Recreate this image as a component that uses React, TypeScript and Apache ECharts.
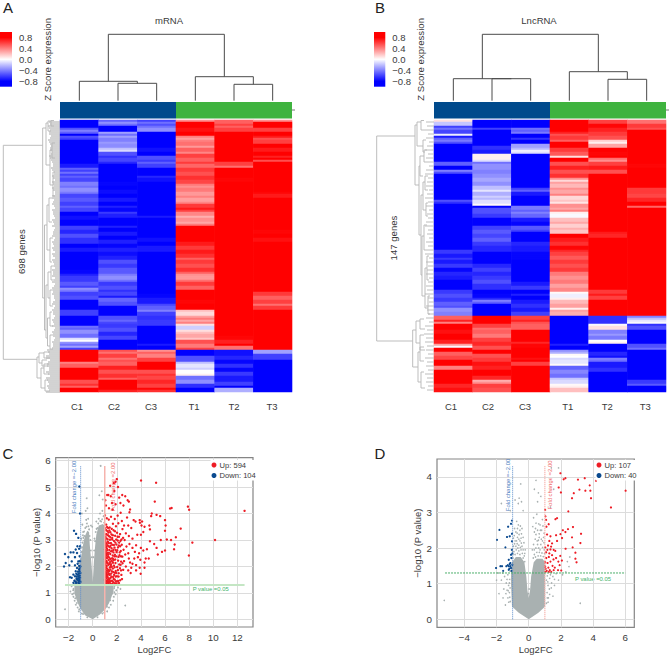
import React, { useEffect, useRef } from "react";
import * as echarts from "echarts";

const FONT = '"Liberation Sans", Arial, sans-serif';
const INK = "#3a3a3a";

const columns = ["C1", "C2", "C3", "T1", "T2", "T3"];
const colorTicks = [-0.8, -0.4, 0, 0.4, 0.8];
const heatColors = ["#0000ff", "#0000ff", "#4040ff", "#8080ff", "#bfbfff", "#ffffff", "#ffbfbf", "#ff8080", "#ff4040", "#ff0000", "#ff0000"];
const annotationGroups = [[0, 3, "#004a8c"], [3, 6, "#3fb33f"]];

// bands per column: [last row (exclusive, of 136), z score]
const mrnaBands = [
  [[2,-.9],[4,-.85],[5,-.55],[6,-.4],[7,-.5],[8,-.9],[9,-.55],[10,-.6],[21,-.9],[22,-.8],[24,-.72],[25,-.5],[26,-.6],[27,-.45],[28,-.6],[29,-.5],[31,-.58],[33,-.4],[34,-.45],[36,-.35],[37,-.42],[39,-.58],[41,-.52],[43,-.6],[44,-.5],[46,-.58],[48,-.85],[50,-.75],[53,-.82],[55,-.6],[57,-.68],[59,-.55],[62,-.65],[64,-.82],[66,-.72],[68,-.85],[70,-.9],[73,-.82],[75,-.88],[77,-.78],[78,-.7],[81,-.62],[83,-.52],[84,-.6],[85,-.35],[86,-.42],[88,-.6],[90,-.55],[92,-.85],[95,-.82],[98,-.6],[101,-.9],[103,-.8],[104,-.45],[105,-.5],[107,-.35],[109,-.45],[110,-.1],[111,0],[112,-.35],[113,-.45],[114,-.3],[115,-.6],[121,.9],[122,.4],[124,.5],[128,.88],[130,.8],[132,.55],[133,.65],[134,.5],[136,.85]],
  [[1,-.5],[2,-.35],[3,-.45],[6,-.9],[7,-.3],[8,-.45],[9,-.3],[11,-.4],[12,-.32],[14,-.36],[15,-.2],[16,-.12],[18,-.55],[19,-.65],[21,-.58],[22,-.68],[25,-.9],[28,-.85],[31,-.9],[33,-.78],[35,-.85],[37,-.76],[39,-.8],[41,-.72],[43,-.82],[44,-.7],[46,-.78],[47,-.62],[49,-.7],[51,-.88],[53,-.82],[54,-.7],[56,-.82],[58,-.72],[60,-.8],[62,-.7],[64,-.78],[66,-.7],[68,-.76],[70,-.7],[72,-.55],[74,-.62],[77,-.52],[78,-.42],[80,-.35],[81,-.45],[83,-.62],[85,-.55],[86,-.65],[88,-.58],[89,-.72],[91,-.48],[93,-.55],[95,-.85],[98,-.82],[100,-.55],[101,-.48],[102,-.58],[104,-.62],[106,-.55],[108,-.68],[110,-.58],[115,-.9],[116,.55],[117,.45],[119,.6],[120,.45],[121,.55],[123,.5],[125,.7],[127,.55],[129,.65],[130,.5],[135,.9],[136,.7]],
  [[1,-.6],[2,-.45],[3,-.55],[4,-.45],[6,-.35],[14,-.9],[16,-.75],[18,-.9],[20,-.55],[21,-.62],[22,-.5],[24,-.6],[26,-.85],[28,-.8],[29,-.68],[31,-.75],[46,-.9],[48,-.82],[49,-.72],[51,-.82],[54,-.85],[56,-.8],[59,-.88],[61,-.75],[63,-.82],[66,-.72],[70,-.82],[87,-.9],[89,-.78],[92,-.72],[93,-.58],[95,-.5],[96,-.4],[98,-.6],[100,-.65],[103,-.62],[110,-.9],[112,-.82],[113,-.72],[115,-.85],[116,.35],[117,.5],[119,.4],[121,.6],[123,.88],[125,.8],[127,.55],[128,.65],[130,.58],[132,.68],[134,.6],[135,.78],[136,.65]],
  [[1,.35],[4,.85],[6,.75],[8,.82],[9,.4],[10,.3],[11,.4],[13,.45],[14,.32],[16,.5],[17,.38],[19,.6],[21,.5],[22,.62],[24,.48],[26,.62],[28,.55],[30,.65],[32,.58],[33,.42],[34,.35],[36,.42],[38,.32],[39,.4],[41,.3],[42,.38],[44,.62],[45,.72],[46,.6],[48,.38],[49,.25],[51,.35],[52,.28],[53,.42],[56,.88],[58,.8],[61,.85],[63,.72],[65,.62],[67,.72],[69,.65],[70,.5],[72,.62],[74,.55],[76,.65],[77,.5],[78,.35],[80,.32],[81,.45],[83,.62],[85,.5],[90,.88],[92,.78],[95,.85],[96,.2],[98,.12],[99,.3],[100,.42],[101,.28],[102,.4],[103,.1],[105,-.15],[106,.1],[107,.2],[109,.28],[110,.18],[112,.55],[114,.42],[115,.6],[118,-.9],[121,-.55],[122,-.2],[124,-.08],[125,-.15],[127,0],[128,.05],[130,-.45],[132,-.35],[134,-.65],[136,-.8]],
  [[2,.5],[3,.6],[4,.5],[6,.6],[21,.9],[23,.6],[24,.45],[29,.88],[31,.78],[37,.88],[85,.9],[87,.8],[90,.85],[108,.9],[110,.78],[112,.7],[113,.88],[115,.45],[118,-.75],[120,-.68],[122,-.78],[124,-.65],[126,-.78],[128,-.62],[131,-.72],[133,-.6],[134,-.8],[136,-.25]],
  [[1,.35],[4,.82],[6,.6],[8,.85],[9,.72],[10,.55],[12,.6],[14,.85],[16,.72],[18,.82],[19,.7],[20,.82],[21,.55],[31,.88],[34,.82],[36,.88],[37,.78],[39,.72],[55,.9],[57,.78],[59,.86],[61,.75],[78,.9],[83,.85],[86,.8],[88,.62],[90,.5],[92,.6],[93,.45],[95,.62],[115,.9],[117,-.3],[120,-.6],[136,-.9]],
];
const lncBands = [
  [[1,.1],[3,-.18],[4,-.6],[5,-.45],[7,-.58],[8,-.05],[9,-.72],[10,-.5],[11,-.42],[12,-.55],[21,-.9],[23,-.5],[24,-.85],[25,-.82],[26,-.4],[27,-.55],[40,-.9],[41,-.55],[42,-.65],[59,-.9],[61,-.8],[65,-.9],[67,-.62],[69,-.72],[70,-.62],[72,-.72],[74,-.62],[76,-.78],[78,-.68],[80,-.72],[85,-.9],[87,-.62],[89,-.55],[91,-.62],[93,-.5],[94,-.55],[96,-.35],[98,-.4],[100,.5],[101,.7],[102,.4],[105,.9],[107,.75],[110,.85],[112,.7],[113,.3],[114,-.02],[116,.85],[118,.5],[120,.58],[123,.85],[125,.4],[128,.88],[132,.9],[134,.68],[136,.75]],
  [[4,-.9],[5,-.6],[13,-.9],[15,-.65],[17,-.72],[20,.05],[21,-.1],[22,-.45],[25,-.35],[27,-.4],[29,-.35],[31,-.28],[33,-.35],[35,-.2],[36,-.08],[38,-.25],[39,-.15],[40,-.22],[42,-.1],[43,.02],[44,-.9],[47,-.55],[49,-.62],[53,-.9],[55,-.6],[57,-.52],[59,-.58],[61,-.5],[63,-.62],[66,-.68],[72,-.88],[74,-.68],[76,-.6],[78,-.68],[80,-.62],[82,-.55],[85,-.65],[87,-.85],[89,-.78],[90,-.68],[91,-.4],[92,-.5],[98,-.9],[102,.9],[104,.6],[105,.45],[107,.5],[109,.42],[111,.6],[113,.68],[115,.55],[117,.85],[119,.55],[121,.62],[123,.75],[125,.7],[128,.8],[130,.68],[131,.25],[132,.35],[134,.6],[136,.55]],
  [[4,-.85],[5,-.45],[6,-.5],[7,-.42],[9,-.8],[10,-.65],[12,-.85],[14,-.3],[15,-.22],[16,-.05],[17,-.1],[34,-.9],[35,-.6],[36,-.5],[38,-.72],[43,-.9],[45,-.42],[46,-.5],[47,-.4],[49,-.48],[51,-.72],[53,-.78],[55,-.52],[56,-.6],[61,-.9],[63,-.68],[66,-.72],[70,-.78],[81,-.9],[83,-.72],[85,-.62],[87,-.85],[88,-.7],[90,-.88],[92,-.72],[94,-.65],[96,-.72],[98,-.6],[100,.6],[101,.7],[102,.55],[105,.5],[111,.9],[112,.68],[114,.78],[117,.9],[119,.88],[120,.75],[121,.9],[123,.6],[136,.9]],
  [[6,.9],[7,.7],[8,.55],[10,.62],[11,.5],[14,.85],[16,.62],[18,.52],[19,.1],[21,.85],[23,.55],[25,.7],[27,.55],[29,.65],[30,.35],[31,.12],[32,.3],[34,.22],[35,.35],[37,.28],[38,.4],[40,.12],[41,.18],[42,.08],[44,.35],[45,.28],[46,.4],[47,.05],[49,-.02],[51,.2],[52,.28],[54,.15],[55,.25],[57,.18],[59,.85],[61,.72],[63,.65],[65,.78],[66,.68],[68,.6],[70,.52],[72,.62],[74,.55],[76,.62],[78,.42],[80,.35],[82,.42],[84,.3],[86,.38],[87,.02],[89,-.05],[90,.05],[92,.22],[94,.3],[95,.05],[96,.3],[98,.25],[112,-.9],[113,-.7],[115,-.82],[116,-.35],[117,-.25],[118,.02],[119,0],[120,-.12],[122,-.08],[123,.02],[125,-.5],[127,-.38],[129,-.45],[130,-.18],[132,-.12],[133,.02],[134,.05],[136,.2]],
  [[2,.6],[4,.78],[6,.7],[8,.62],[10,.55],[11,.15],[12,.05],[14,.28],[16,.88],[18,.78],[19,.85],[20,.45],[21,.35],[23,.6],[25,.72],[27,.55],[30,.82],[56,.9],[57,.72],[59,.68],[69,.88],[85,.9],[87,.62],[88,.72],[90,.6],[98,.9],[102,-.65],[103,-.02],[105,.1],[107,-.4],[108,-.32],[110,-.42],[111,0],[112,.05],[116,-.85],[118,-.68],[119,-.75],[120,-.4],[121,-.45],[124,-.72],[126,-.65],[136,-.9]],
  [[2,.45],[4,.62],[5,.55],[22,.9],[24,.78],[34,.9],[37,.62],[39,.58],[41,.68],[43,.82],[44,.48],[69,.9],[74,.85],[80,.82],[98,.9],[99,-.4],[100,-.2],[101,-.08],[102,-.02],[103,-.65],[105,-.55],[112,-.9],[114,-.55],[115,-.45],[130,-.9],[132,-.62],[133,-.52],[136,-.85]],
];

// top dendrograms: [x1, h1, x2, h2, top]
const topTreeA = [[1.5,0,2.5,0,17.4],[.5,0,2,17.4,19.4],[4.5,0,5.5,0,16.4],[3.5,0,5,16.4,24],[1.25,19.4,4.25,24,66.4]];
const topTreeB = [[1.5,0,2.5,0,22],[.5,0,2,22,22],[4.5,0,5.5,0,21.4],[3.5,0,5,21.4,29],[1.25,22,4.25,29,66.4]];

// side dendrograms: [join, y1, y2, end1, end2]
const sideTreeA = [[3.3,145.3,359.3,42.7,37],[42.7,128,298,46,44.5],[46,123,165,48,50],[48,121,131,51,51],[51,120.5,126,54,54],[50,150,185,52,53],[52,143,158,55,55],[53,172,196,55,55],[44.5,225,330,47,46],[47,205,250,49,50],[49,198,222,52,52],[50,238,262,53,52],[46,285,338,48,47.5],[48,272,298,51,50],[47.5,318,346,50,50],[51,266,280,54,54],[50,290,306,53,53],[50,312,326,52,53],[50,335,349,53,53],[37,357,378,39,41],[39,353,363,44,42],[41,368,388,44,45],[44,352,358,50,50],[42,360,366,47,48],[44,364,374,49,49],[45,380,391,48,50]];
const sideTreeB = [[376.7,136,341,415,412.7],[415,125,185,417,419],[417,122,146,421,423],[421,120.5,130,424,425],[423,140,152,426,425],[419,166,235,420,421],[420,156,176,424,423],[424,150,162,427,427],[421,195,275,423,422],[423,182,210,425,426],[425,176,190,428,428],[426,203,216,428,428],[422,236,296,424,425],[424,225,250,427,427],[425,268,308,427,428],[427,256,280,429,429],[428,296,314,430,430],[412.7,330,367,416,418],[416,321,343,420,420],[420,319,329,424,425],[420,335,350,424,425],[418,352,382,420,421],[420,347,361,424,424],[421,372,388,424,425]];
const leafStartA = [49,48,50,49,50,49,51,50,51,50,52,53,52,54,53,52,54,53,55,52,53,54,52,53,55,53,52,54,53,55,52,54,53,52,55,53,54,52,53,55,52,54,53,52,54,53,55,52,53,54,53,52,54,53,55,52,53,47,49,46,48,47,49,48,46,48,47,49];
const leafStartA2 = [50,49,49,51,48,50,50,52,49,51,53,51,54,52,55,53,52,55,52,54,52,55,53,54,52,54,55,53,52,54,53,52,55,53,52,54,55,53,52,54,55,52,53,54,55,52,54,53,55,52,54,55,52,53,54,53,52,48,46,50,47,49,46,50,47,49,48,46];
const leafStartB = [426,427,425,428,426,429,427,425,428,426,427,429,426,425,428,427,426,429,427,425,428,426,429,427,428,426,425,428,427,429,426,428,427,425,429,426,428,427,426,429,428,426,427,425,428,429,426,427,428,426,429,425,427,424,426,425,427,426,428,425,427,426,428,425,427,426,428,427];

const xTicksC = [-2, 0, 2, 4, 6, 8, 10, 12];
const yTicksC = [0, 1, 2, 3, 4, 5, 6];
const xTicksD = [-4, -2, 0, 2, 4, 6];
const yTicksD = [0, 1, 2, 3, 4];

const cloudC = [[0,0],[-.64,.15],[-1.05,.43],[-1.3,.68],[-1.52,1],[-1.52,1.31],[-1.3,1.6],[-1.08,2],[-.95,2.38],[-.8,2.82],[-.65,3.14],[-.45,3.35],[-.3,3.3],[-.24,2.8],[-.12,2.19],[-.02,1.6],[0,1.4],[.03,1.6],[.1,2.19],[.2,2.76],[.3,3.2],[.5,3.55],[.85,3.6],[1.02,3.45],[1.02,1.31],[1.71,1.31],[1.74,1.12],[1.58,.87],[1.36,.62],[1.08,.4],[.6,.18]];
const cloudD = [[0,0],[-.62,.18],[-1.04,.36],[-1.1,.97],[-1.1,1.3],[-1.04,1.6],[-.8,1.75],[-.5,1.75],[-.27,1.6],[-.15,1.2],[-.08,.8],[0,.6],[.08,.8],[.15,1.2],[.31,1.6],[.5,1.7],[.85,1.7],[1.02,1.6],[1.02,.36],[.6,.18]];

const greyC = [[-.5,4.58],[.66,5.8],[-.44,4.2],[.75,4.84],[.55,4.69],[.83,4.53],[-.9,4],[-.58,4.1],[-.38,3.8],[.6,4],[-.54,3.76],[.8,4.1],[-.04,3.5],[-.86,3.58],[-.3,3.4],[-.7,3.15],[.25,3.3],[.4,3.45],[.7,3.7],[.5,3.8],[.9,3.9],[.95,3.65],[-.8,3.3],[-.85,2.9],[-1,2.7],[-.95,3.05],[-1.1,2.4],[-.62,3.45],[-.15,3.55],[.15,3.05],[.3,3.7],[-1.6,1.15],[-1.75,1.25],[-1.7,.95],[-1.6,.85],[-1.5,.7],[-1.4,.55],[-1.25,.45],[-2.3,.38],[-1.85,1.05],[1.8,1.25],[1.95,1.1],[1.9,.95],[1.75,.85],[2.1,1.2],[2.3,1.15],[1.7,.7],[1.5,.55],[1.35,.45],[2.7,.52],[1.65,1.05],[-1.6,1.3],[-1.15,.3],[1.2,.3],[.95,.25],[-.9,.22],
  [-.72,3.32],[-.78,3.08],[-.88,2.72],[-.92,2.55],[-1,2.25],[-1.12,2.12],[-1.18,1.95],[-1.25,1.82],[-1.38,1.62],[-1.45,1.5],[-.52,3.5],[-.36,3.52],[-.48,3.62],[-.7,2.98],[-.82,3.18],[.32,3.42],[.46,3.62],[.62,3.72],[.78,3.78],[.92,3.55],[.2,2.95],[.12,2.6],[.06,2.35],[-.16,2.6],[-.2,3],[-.08,2.35],[-.26,3.15],[-1.62,1.1],[-1.58,.98],[-1.45,.8],[-1.32,.62],[-1.12,.38],[-.8,.2],[-.45,.08],[.4,.08],[.8,.22],[1.18,.48],[1.45,.72],[1.62,.98],[1.8,1.02],[1.78,1.18],[1.85,1.3]];
const upC = [[4.01,5.25],[5.26,5.16],[12.6,4.1],[7.9,4.26],[8,4.14],[6.55,4.21],[6.42,4.19],[5.15,4.45],[8.27,2.9],[10.15,3],[7.98,2.41],[7.3,3.43],[6.9,3.1],[6.75,2.65],[6.8,2.83],[6.5,3],[6.15,3.02],[6,3.75],[6.05,3.55],[6,3.35],[6,2.6],[5.6,3.9],[5.65,3],[5.3,3.95],[5.75,2.55],[4.9,4],[4.85,3.9],[4.7,3.55],[4.75,3.4],[4.3,3.5],[4.2,3.3],[3.9,3.75],[4.1,3.7],[4.05,3.55],[3.92,3.65],[4,3.2],[3.4,3.75],[3.55,3.7],[3.7,3.2],[4,2.7],[4.2,2.6],[4.5,2.65],[4.75,2.95],[4.65,2.3],[5.1,2.85],[5.3,2.7],[5.4,2.45],[4.4,2.3],[4.3,2.15],[4.3,1.95],[3.95,2.25],[3.85,2.5],[3.75,2.35],[3.6,2.8],[3.5,2.55],[3.45,2.3],[3.3,2.7],[3.2,3.45],[3.3,3.05],[3,3.15],[3.05,2.85],[2.95,2.5],[3,2.3],[3.1,2.15],[3.3,2.1],[3.6,2.05],[3.9,1.95],[3.98,1.72],[3.6,1.85],[3.15,1.75],[3.2,1.95],[2.95,1.85],[2.75,2],[2.6,2.2],[2.7,2.45],[2.8,2.75],[2.65,3],[2.75,3.25],[2.6,3.55],[2.95,3.55],[3,4.45],[2.9,4.5],[2.45,4.7],[2.7,4.65],[2.2,4.6],[1.9,5.2],[2,5.3],[1.75,5.15],[1.45,5.05],[1.2,4.7],[1.3,4.7],[1.05,4.5],[1.5,4.65],[2.1,5],[1.8,4.85],[1.6,4.4],[1.1,4.3],[1.35,4.2],[1.65,4.15],[1.9,4.35],[2.3,4.4],[2.55,4.3],[3.05,4.05],[2.85,3.85],[3.1,4.15],
  [1.02,3.93],[1.17,3.82],[1.33,3.77],[1.52,3.88],[1.83,3.79],[2.07,3.92],[2.32,4.03],[2.42,3.72],[2.13,3.63],[1.93,3.52],[1.68,3.61],[1.41,3.47],[1.12,3.58],[1.03,3.44],[1.22,3.33],[1.47,3.29],[1.73,3.37],[2.02,3.27],[2.27,3.22],[2.47,3.41],[2.52,3.08],[2.31,2.97],[2.06,3.12],[1.86,3.16],[1.62,3.07],[1.36,3.14],[1.11,3.21],[1.03,3.03],[1.26,2.93],[1.51,2.88],[1.77,2.96],[1.96,2.83],[2.17,2.79],[2.41,2.82],[2.56,2.63],[2.33,2.58],[2.04,2.61],[1.81,2.71],[1.57,2.69],[1.31,2.76],[1.08,2.81],[1.02,2.64],[1.21,2.52],[1.46,2.47],[1.72,2.53],[1.94,2.38],[2.22,2.42],[2.46,2.37],[2.36,2.18],[2.11,2.22],[1.87,2.26],[1.61,2.31],[1.37,2.34],[1.13,2.41],[1.02,2.27],[1.24,2.13],[1.52,2.08],[1.76,2.03],[2.03,1.98],[2.26,1.93],[2.53,1.87],[2.38,1.68],[2.16,1.74],[1.91,1.83],[1.67,1.92],[1.42,1.96],[1.16,2.02],[1.03,1.88],[1.27,1.79],[1.54,1.73],[1.78,1.68],[2.01,1.63],[2.28,1.48],[2.02,1.44],[1.74,1.52],[1.49,1.57],[1.23,1.61],[1.06,1.71],[1.02,1.49],[1.17,1.43],[1.34,1.39],[1.63,1.34],[1.86,1.36],[1.09,1.34],[1.02,1.32],[1.29,1.33],[1.51,1.32],
  [1.06,3.12],[1.16,2.87],[1.04,2.47],[1.09,2.58],[1.18,2.68],[1.28,2.44],[1.14,2.21],[1.07,2.09],[1.33,2.24],[1.19,1.92],[1.08,1.8],[1.31,1.87],[1.13,1.55],[1.26,1.49],[1.42,1.68],[1.39,1.51],[1.44,2.17],[1.56,2.22],[1.38,2.62],[1.48,2.78],[1.24,3.03],[1.43,3.01],[1.56,3.21],[1.28,3.45],[1.6,2.58],[1.66,2.41],[1.68,2.14],[1.58,1.99],[1.7,1.79],[1.82,1.97],[1.84,2.44],[1.89,2.13],[1.98,2.54],[2.14,2.36],[2.2,2.07],[2.09,1.86],[1.95,1.75],[1.11,3.38],[1.05,2.95],[1.04,2.72],[1.2,2.31],[1.03,2.18],[1.12,1.67],[1.04,1.6],[1.36,1.72],[1.22,1.41],[1.47,1.44],[1.59,1.46],[1.74,1.39],[1.98,1.36],[2.18,1.37],[2.43,1.52],
  [1.03,2.96],[1.07,2.88],[1.13,2.74],[1.05,2.54],[1.1,2.33],[1.16,2.47],[1.22,2.62],[1.26,2.37],[1.18,2.16],[1.04,2.03],[1.1,1.95],[1.2,1.85],[1.05,1.79],[1.14,1.74],[1.23,1.69],[1.07,1.63],[1.17,1.63],[1.29,1.7],[1.1,1.47],[1.04,1.41],[1.16,1.36],[1.27,1.43],[1.33,1.55],[1.4,1.44],[1.46,1.36],[1.38,1.83],[1.47,1.88],[1.3,2.06],[1.39,2.1],[1.5,2.02],[1.46,2.28],[1.34,2.52],[1.52,2.57],[1.42,2.73],[1.22,2.8],[1.34,2.88],[1.14,3.06],[1.47,3.1],[1.32,3.28],[1.19,3.49],[1.62,2.82],[1.68,3.18],[1.76,2.81],[1.72,2.63],[1.8,2.38],[1.75,2.24],[1.63,2.18],[1.59,1.82],[1.84,1.76],[1.69,1.6],[1.56,1.62],[1.83,1.5],[1.9,1.62],[1.66,1.43],[1.92,1.44],[1.3,1.52],[1.03,1.74],[1.09,2.15],[1.05,2.38],[1.15,3.22],[1.27,3.18],[1.38,3.36],[1.58,3.42],[1.85,3.33],[1.95,3.02],[1.68,2.29],[1.9,2.62],[2.1,2.72],[2.24,2.53],[2.35,2.38],[2.28,2.76],[2.2,2.9],[2.39,3.02],[2.18,3.12],[2.08,2.98],[1.88,2.9],[1.62,3.02],[2.15,1.62],[2.35,1.85],[2.32,2.06],[2.48,2.12],[2.12,1.45]];
const downC = [[-1.11,5.02],[-1.05,4],[-1.55,3.35],[-1.38,3.23],[-1.19,3.08],[-1.27,2.76],[-1.05,2.76],[-1.13,2.67],[-1.41,2.64],[-1.83,2.53],[-2.3,2.47],[-1.6,2.53],[-1.3,2.51],[-2.02,2.35],[-1.47,2.35],[-1.08,2.38],[-1.74,2.19],[-2.24,2.13],[-1.19,2.19],[-2.38,2],[-1.94,2.04],[-1.47,2.04],[-1.02,2],[-1.3,1.94],[-1.13,1.88],[-1.41,1.82],[-1.02,1.75],[-1.6,1.69],[-1.25,1.69],[-1.47,1.63],[-1.88,1.59],[-1.19,1.63],[-1.74,1.57],[-1.33,1.54],[-1.05,1.57],[-1.52,1.46],[-1.19,1.46],[-1.02,1.41],[-1.36,1.38],[-1.6,1.38],[-1.13,1.34],[-1.02,1.31],[-1.3,1.31],[-1.22,1.8],[-1.08,1.92],[-1.36,1.72],[-1.05,2.2],[-1.25,2.1],[-1.1,1.5],[-1.45,1.32],[-1.15,1.72],[-1.06,1.65],[-1.28,1.5],[-1.08,1.82],[-1.18,1.38],[-1.12,2.02],[-1.2,1.55],[-1.05,1.45],[-1.34,1.62],[-1.42,1.42]];
const upD = [[1.97,4.1],[2.28,3.96],[2.17,3.93],[3.06,3.92],[3.48,3.96],[4.18,3.89],[3.79,3.76],[3.15,3.64],[3.52,3.61],[3.83,3.61],[6.02,3.61],[2.8,3.54],[2.69,3.4],[3.87,3.4],[1.86,3.7],[2,3.56],[5.11,3.14],[2.46,3.03],[1.02,3.07],[1.04,2.89],[1.08,2.79],[1.24,2.67],[1.1,2.6],[1.76,2.84],[1.66,2.81],[2.12,2.5],[2.75,2.59],[2.44,2.53],[2.28,2.45],[3.25,2.4],[2.69,2.3],[1.97,2.39],[2.07,2.28],[1.7,2.36],[1.35,2.33],[1.14,2.38],[1.28,2.2],[1.45,2.13],[1.2,2.07],[1.03,2.02],[1.39,2.04],[1.55,1.95],[1.76,2.2],[3.21,2.14],[2.73,2.02],[2.29,1.98],[1.65,1.92],[1.16,1.95],[1.08,1.88],[1.28,1.85],[1.45,1.8],[1.35,1.96],[2.9,1.87],[2.9,1.7],[2.97,1.6],[1.96,1.78],[2.06,1.65],[1.84,1.62],[1.7,1.72],[1.54,1.68],[1.25,1.75],[1.09,1.72],[1.02,1.6],[1.17,1.58],[1.35,1.62],[1.48,1.5],[1.62,1.45],[1.22,1.45],[1.05,1.42],[1.31,1.38],[1.12,1.36],[1.02,1.48],[1.92,1.52],[1.4,1.33],[1.25,1.33],[1.04,1.33],[1.82,1.38],[1.55,1.38],[2.02,1.37]];
const downD = [[-1.04,2.77],[-1.1,2.68],[-1.28,2.6],[-1.82,2.51],[-1.97,2.23],[-1.35,2.31],[-1.18,2.33],[-1.04,2.4],[-1.04,2.19],[-1.45,2.02],[-1.04,1.95],[-1.1,1.81],[-1.08,1.72],[-1.24,1.67],[-1.14,1.58],[-1.14,1.49],[-1.24,1.49],[-1.39,1.49],[-1.66,1.49],[-2.03,1.44],[-1.76,1.49],[-1.59,1.36],[-1.24,1.39],[-1.1,1.44],[-1.02,1.53],[-1.18,1.55],[-1.2,1.42],[-1.07,1.36],[-1.3,1.52],[-1.02,1.85]];
const greyD = [[-5.25,.53],[3.2,.45],[-.75,2.75],[-.5,3.8],[-.6,3.4],[-.85,3.35],[-.45,3.3],[-.65,3.25],[-1.7,3.25],[-1.15,3.05],[-.35,3.05],[.35,3.65],[.45,3.9],[.6,3.55],[.55,3.3],[.75,3.45],[1.4,4.25],[1.85,4.25],[1.55,3.65],[1.35,3.15],[.5,2.95],[.3,2.85],[.45,2.7],[.7,2.65],[.85,2.8],[.25,2.6],[-.65,2.65],[-.55,2.5],[-.8,2.45],[-.45,2.4],[-.9,2.35],[-.35,2.3],[-.7,2.3],[-.55,2.2],[-.3,2.15],[-.85,2.2],[-.62,2.08],[-.42,2.05],[-.72,2.12],[-.22,1.95],[-.95,2.05],[.35,2.45],[.55,2.5],[.8,2.5],[.95,2.42],[.4,2.25],[.65,2.3],[.85,2.2],[.3,2.1],[.55,2.1],[.75,2.1],[.95,2.15],[.22,1.95],[.65,2.4],[-1.15,1.35],[-1.3,1.25],[-1.5,1.2],[-1.7,1.1],[-1.4,1.02],[-1.25,.95],[-1.55,.85],[-1.35,.82],[-1.2,.75],[-1.85,.72],[-1.6,.6],[-1.3,.6],[-1.15,.5],[-1.45,.4],[-1.18,1.12],[-1.62,1.3],[-1.9,1.3],[-2,1.1],[1.15,1.22],[1.3,1.15],[1.5,1.2],[1.7,1.28],[1.85,1.1],[1.2,.95],[1.4,.88],[1.6,.95],[1.3,.7],[1.15,.6],[1.2,.48],[1.5,.65],[1.1,.45],[2.1,1.25],[2.3,1.33],[2.5,1.48],[2.4,1.62],[2.55,1.75],[-.98,1.72],[-1,1.9],[1.1,1.1],
  [-1.08,1.95],[-.98,1.82],[-.92,1.9],[-.85,1.82],[-.78,1.95],[-.7,1.85],[-.62,1.92],[-.55,1.82],[-.48,1.95],[-.4,1.85],[-.35,1.72],[-.28,1.78],[-.25,1.62],[-.88,2.12],[-.8,2.05],[-.68,2],[-.52,2.02],[-.46,2.14],[-.35,1.95],[-.25,1.85],[-.76,2.2],[-.62,2.25],[-.48,2.28],[-.95,2.28],[-.72,2.42],[-.6,2.38],[-.88,2.55],[-.7,2.55],[-.52,2.62],[-.42,2.55],[.28,1.72],[.35,1.82],[.42,1.75],[.5,1.88],[.58,1.78],[.66,1.88],[.74,1.78],[.82,1.86],[.9,1.76],[.98,1.85],[.34,1.95],[.44,2],[.62,2],[.7,1.95],[.86,2.02],[.96,1.95],[.52,2.2],[.78,2.25],[.92,2.3],[.45,2.38],[.6,2.22],[.72,2.5],[.88,2.62],[.42,2.55],[.62,2.68],[-1.2,1.02],[-1.35,1.12],[-1.28,.8],[-1.16,.88],[-1.42,.72],[-1.18,.62],[-1.24,.48],[1.18,1.05],[1.28,.85],[1.14,.75],[1.42,1.02],[1.22,.6],[1.35,1.25],[1.6,1.12],[-.02,.72],[.02,.85]];

const bandsToColumn = (bands) => {
  const out = [];
  bands.forEach(([end, z]) => { while (out.length < end) out.push(z); });
  return out;
};
const heatData = (bands) => {
  const data = [];
  bands.forEach((b, c) => bandsToColumn(b).forEach((z, r) => data.push([c, r, z])));
  return data;
};
const rows = Array.from({ length: 136 }, (_, i) => String(i));
const minus = (v) => (v < 0 ? "\u2212" + Math.abs(v) : String(v));
const minus1 = (v) => (v < 0 ? "\u2212" + Math.abs(v).toFixed(1) : v.toFixed(1));

const hidden = (o) => ({ show: false, ...o });

const text = (t, x, y, size, fill = INK, rotation = 0) => ({
  type: "text", x, y, rotation, silent: true,
  style: { text: t, fontSize: size, fontFamily: FONT, fill, align: "center", verticalAlign: "middle" },
});

const treeSeries = (data, x, y) => ({
  type: "custom", xAxisIndex: x, yAxisIndex: y, silent: true, clip: false, data,
  renderItem: (_p, api) => {
    const a = api.coord([api.value(0), api.value(1)]);
    const b = api.coord([api.value(0), api.value(4)]);
    const c = api.coord([api.value(2), api.value(4)]);
    const d = api.coord([api.value(2), api.value(3)]);
    return { type: "polyline", shape: { points: [a, b, c, d] }, style: { stroke: "#4a4a4a", fill: "none", lineWidth: 1 } };
  },
});
const bracketSeries = (data) => ({
  type: "custom", xAxisIndex: 10, yAxisIndex: 10, silent: true, clip: false, data,
  renderItem: (_p, api) => {
    const pts = [[api.value(3), api.value(1)], [api.value(0), api.value(1)], [api.value(0), api.value(2)], [api.value(4), api.value(2)]].map((p) => api.coord(p));
    return { type: "polyline", shape: { points: pts }, style: { stroke: "#b5b5b5", fill: "none", lineWidth: 0.9 } };
  },
});
const leafSeries = (starts, yStart, xEnd, color, width) => ({
  type: "custom", xAxisIndex: 10, yAxisIndex: 10, silent: true, clip: false,
  data: starts.map((s, i) => [s, yStart + 4 * i, xEnd]),
  renderItem: (_p, api) => {
    const a = api.coord([api.value(0), api.value(1)]);
    const b = api.coord([api.value(2), api.value(1)]);
    return { type: "line", shape: { x1: a[0], y1: a[1], x2: b[0], y2: b[1] }, style: { stroke: color, lineWidth: width } };
  },
});
const annSeries = (i) => ({
  type: "custom", xAxisIndex: i, yAxisIndex: i, silent: true, data: annotationGroups,
  renderItem: (_p, api) => {
    const a = api.coord([api.value(0), 1]);
    const b = api.coord([api.value(1), 0]);
    return { type: "rect", shape: { x: a[0], y: a[1], width: b[0] - a[0], height: b[1] - a[1] }, style: { fill: annotationGroups[_p.dataIndex][2] } };
  },
});
const barSeries = (i) => ({
  type: "custom", xAxisIndex: i, yAxisIndex: i, silent: true, data: [[0, 1]],
  renderItem: (_p, api) => {
    const a = api.coord([0, 1]);
    const b = api.coord([1, -1]);
    const stops = [...heatColors].reverse().map((color, k) => ({ offset: k / 10, color }));
    return { type: "rect", shape: { x: a[0], y: a[1], width: b[0] - a[0], height: b[1] - a[1] }, style: { fill: new echarts.graphic.LinearGradient(0, 0, 0, 1, stops) } };
  },
});
const cloudSeries = (pts, i) => ({
  type: "custom", xAxisIndex: i, yAxisIndex: i, silent: true, data: [[0, 0]],
  renderItem: (_p, api) => ({ type: "polygon", shape: { points: pts.map((p) => api.coord(p)) }, style: { fill: "#a9b1b1" } }),
});
const refLine = (pts, i, color, width, dash) => ({
  type: "line", xAxisIndex: i, yAxisIndex: i, data: pts, symbol: "none", silent: true,
  lineStyle: { color, width, type: dash },
});
const dots = (name, data, i, color, size) => ({
  type: "scatter", name, data, xAxisIndex: i, yAxisIndex: i, symbolSize: size, silent: true,
  itemStyle: { color, opacity: 1 },
});
const volcanoAxis = (min, max, ticks, name, gap) => ({
  type: "value", min, max, name, nameLocation: "middle", nameGap: gap,
  nameTextStyle: { fontSize: 9.5, fontFamily: FONT, color: INK },
  axisLine: { show: false },
  axisTick: { show: false, customValues: ticks },
  axisLabel: { customValues: ticks, formatter: minus, fontSize: 9.8, fontFamily: FONT, color: INK, margin: 5 },
  splitLine: { show: true, lineStyle: { color: "#dcdcdc", width: 1 } },
});
const colorAxis = () => ({
  type: "value", position: "right", min: -1, max: 1, name: "Z Score expression", nameLocation: "middle", nameGap: 30,
  nameRotate: 90, nameTextStyle: { fontSize: 9.6, fontFamily: FONT, color: INK },
  axisLine: { show: false },
  axisTick: { show: true, length: 3, customValues: colorTicks, lineStyle: { color: "#555" } },
  axisLabel: { customValues: colorTicks, formatter: minus1, fontSize: 9.5, fontFamily: FONT, color: INK, margin: 7, align: "left" },
  splitLine: { show: false },
});
const legend = (left, names) => ({
  left, top: 460, orient: "vertical", itemWidth: 5, itemHeight: 5, itemGap: 2.5, icon: "circle", data: names, padding: 1,
  backgroundColor: "#fff", selectedMode: false,
  textStyle: { fontSize: 7.6, fontFamily: FONT, color: INK, padding: [0, 0, 0, -2] },
});

const option = {
  animation: false,
  backgroundColor: "#fff",
  tooltip: { show: false },
  visualMap: { show: false, seriesIndex: [0, 1], dimension: 2, min: -1, max: 1, inRange: { color: heatColors } },
  legend: [legend(210.5, ["Up: 594", "Down: 104"]), legend(595.5, ["Up: 107", "Down: 40"])],
  grid: [
    { left: 60, top: 120, width: 232, height: 272 },
    { left: 434, top: 120, width: 232, height: 272 },
    { left: 60, top: 102, width: 232, height: 16.5 },
    { left: 434, top: 102, width: 232, height: 16.5 },
    { left: 60, top: 30.7, width: 232, height: 70 },
    { left: 434, top: 30.7, width: 232, height: 70 },
    { left: 0, top: 32, width: 12, height: 54.7 },
    { left: 374, top: 32, width: 11.3, height: 54.7 },
    { left: 55.7, top: 457.7, width: 197.3, height: 169.3, show: true, borderColor: "#858585", borderWidth: 1.2, backgroundColor: "transparent" },
    { left: 437, top: 459, width: 197.3, height: 168.3, show: true, borderColor: "#858585", borderWidth: 1.2, backgroundColor: "transparent" },
    { left: 0, top: 0, width: 669, height: 658 },
  ],
  xAxis: [
    hidden({ type: "category", data: columns, gridIndex: 0 }),
    hidden({ type: "category", data: columns, gridIndex: 1 }),
    hidden({ type: "value", min: 0, max: 6, gridIndex: 2 }),
    hidden({ type: "value", min: 0, max: 6, gridIndex: 3 }),
    hidden({ type: "value", min: 0, max: 6, gridIndex: 4 }),
    hidden({ type: "value", min: 0, max: 6, gridIndex: 5 }),
    hidden({ type: "value", min: 0, max: 1, gridIndex: 6 }),
    hidden({ type: "value", min: 0, max: 1, gridIndex: 7 }),
    { ...volcanoAxis(-3.07, 13.3, xTicksC, "Log2FC", 17), gridIndex: 8 },
    { ...volcanoAxis(-5.7, 6.56, xTicksD, "Log2FC", 17), gridIndex: 9 },
    hidden({ type: "value", min: 0, max: 669, gridIndex: 10 }),
  ],
  yAxis: [
    hidden({ type: "category", data: rows, inverse: true, gridIndex: 0 }),
    hidden({ type: "category", data: rows, inverse: true, gridIndex: 1 }),
    hidden({ type: "value", min: 0, max: 1, gridIndex: 2 }),
    hidden({ type: "value", min: 0, max: 1, gridIndex: 3 }),
    hidden({ type: "value", min: 0, max: 70, gridIndex: 4 }),
    hidden({ type: "value", min: 0, max: 70, gridIndex: 5 }),
    { ...colorAxis(), gridIndex: 6 },
    { ...colorAxis(), gridIndex: 7 },
    { ...volcanoAxis(-0.29, 6.11, yTicksC, "\u2212log10 (P value)", 13), gridIndex: 8 },
    { ...volcanoAxis(-0.225, 4.5, yTicksD, "\u2212log10 (P value)", 13), gridIndex: 9 },
    hidden({ type: "value", min: 0, max: 658, inverse: true, gridIndex: 10 }),
  ],
  series: [
    { type: "heatmap", xAxisIndex: 0, yAxisIndex: 0, data: heatData(mrnaBands), silent: true, progressive: 0 },
    { type: "heatmap", xAxisIndex: 1, yAxisIndex: 1, data: heatData(lncBands), silent: true, progressive: 0 },
    annSeries(2),
    annSeries(3),
    treeSeries(topTreeA, 4, 4),
    treeSeries(topTreeB, 5, 5),
    barSeries(6),
    barSeries(7),
    leafSeries(leafStartA, 122, 60, "#a6a6a6", 1),
    leafSeries(leafStartA2, 124, 60, "#a6a6a6", 1),
    leafSeries(leafStartB, 122, 434, "#bdbdbd", 1),
    bracketSeries(sideTreeA),
    bracketSeries(sideTreeB),
    cloudSeries(cloudC, 8),
    dots("grey C", greyC, 8, "#a9b1b1", 1.8),
    cloudSeries(cloudD, 9),
    dots("grey D", greyD, 9, "#a9b1b1", 1.6),
    refLine([[-1, 0], [-1, 5.8]], 8, "#5c8ccb", 1, [1, 1]),
    refLine([[1, 0], [1, 5.8]], 8, "#f6b3ad", 1.5, "solid"),
    refLine([[-1, 0], [-1, 4.3]], 9, "#5c8ccb", 1, [1, 1]),
    refLine([[1, 0], [1, 4.3]], 9, "#f6b3ad", 1.5, [1, 1]),
    dots("Up: 594", upC, 8, "#ee1c25", 2.4),
    dots("Down: 104", downC, 8, "#0b4a8f", 2.4),
    dots("Up: 107", upD, 9, "#ee1c25", 2.2),
    dots("Down: 40", downD, 9, "#0b4a8f", 2.2),
    refLine([[-2.3, 1.3], [12.6, 1.3]], 8, "#c4e6c4", 2, "solid"),
    refLine([[-5.2, 1.3], [6, 1.3]], 9, "#4caf6a", 1, [2, 1]),
  ],
  graphic: [
    text("A", 8, 7, 15, "#222"),
    text("B", 380, 7, 15, "#222"),
    text("C", 8, 453, 15, "#222"),
    text("D", 380, 453, 15, "#222"),
    text("mRNA", 169, 20, 9.5),
    text("LncRNA", 539, 20, 9.5),
    text("698 genes", 21.7, 251.7, 9.6, INK, Math.PI / 2),
    text("147 genes", 393, 238, 9.6, INK, Math.PI / 2),
    ...columns.map((c, i) => text(c, [77, 114, 151, 194, 234, 272][i], 406, 9.5)),
    ...columns.map((c, i) => text(c, [451, 488, 525, 567.7, 607.3, 645.3][i], 406, 9.5)),
    { type: "line", silent: true, shape: { x1: 292, y1: 110, x2: 295, y2: 110 }, style: { stroke: "#777", lineWidth: 1 } },
    { type: "line", silent: true, shape: { x1: 666, y1: 110, x2: 669, y2: 110 }, style: { stroke: "#777", lineWidth: 1 } },
    text("Fold change =\u22122.00", 74, 487, 5.9, "#4f7fbf", Math.PI / 2),
    text("Fold change =2.00", 113, 487, 5.9, "#ef6a6a", Math.PI / 2),
    text("P value =0.05", 210.7, 589, 5.9, "#43b36b"),
    text("Fold change =\u22122.00", 508, 485, 5.9, "#4f7fbf", Math.PI / 2),
    text("Fold change =2.00", 550, 485, 5.9, "#ef6a6a", Math.PI / 2),
    text("P value =0.05", 593, 579, 5.9, "#43b36b"),
  ],
};

export default function App() {
  const ref = useRef(null);
  useEffect(() => {
    document.body.style.margin = "0";
    const chart = echarts.init(ref.current, null, { renderer: "svg" });
    chart.setOption(option);
    return () => chart.dispose();
  }, []);
  return <div ref={ref} style={{ width: 669, height: 658 }} />;
}
